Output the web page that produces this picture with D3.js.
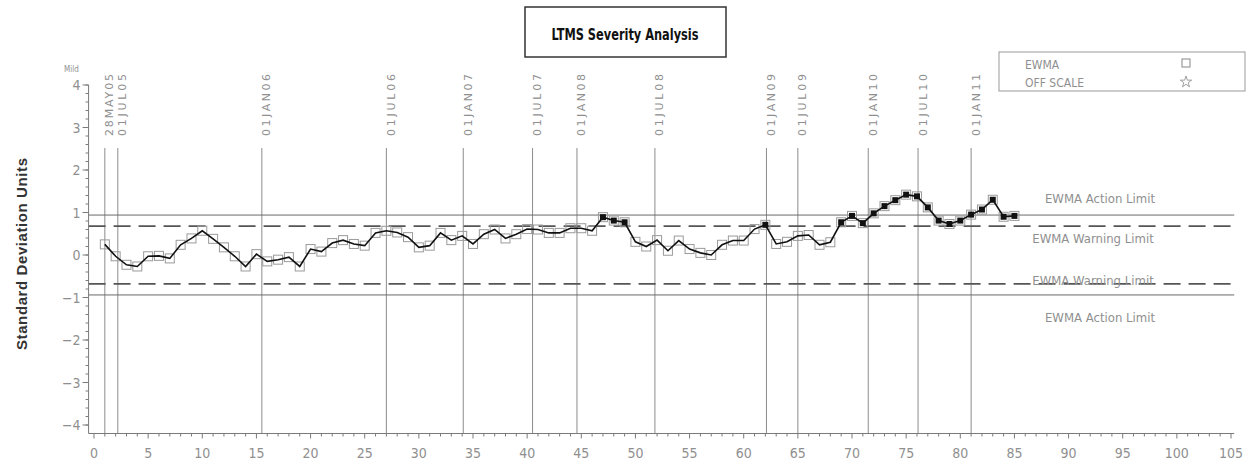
<!DOCTYPE html>
<html>
<head>
<meta charset="utf-8">
<script src="https://cdn.jsdelivr.net/npm/d3@7"></script>
<style>
  html, body { margin: 0; padding: 0; background: #fff; }
  svg { display: block; }
</style>
</head>
<body>
<svg id="chart" width="1252" height="466"></svg>
<script>
// EWMA values, one per test (x = 1..85)
const testIndex = d3.range(1, 86)
const ewmaValues = [
  0.25, -0.03, -0.23, -0.27, -0.03, -0.02, -0.08, 0.24, 0.39, 0.57,
  0.38, 0.18, -0.03, -0.27, 0.02, -0.15, -0.11, -0.05, -0.27, 0.14,
  0.08, 0.28, 0.35, 0.26, 0.22, 0.52, 0.57, 0.53, 0.42, 0.18,
  0.22, 0.52, 0.35, 0.45, 0.26, 0.49, 0.60, 0.39, 0.49, 0.61,
  0.60, 0.52, 0.52, 0.63, 0.63, 0.57, 0.89, 0.81, 0.77, 0.31,
  0.20, 0.35, 0.10, 0.34, 0.14, 0.05, 0.00, 0.24, 0.34, 0.34,
  0.61, 0.71, 0.26, 0.31, 0.45, 0.47, 0.24, 0.30, 0.77, 0.92,
  0.75, 0.98, 1.15, 1.29, 1.42, 1.38, 1.12, 0.81, 0.73, 0.81,
  0.95, 1.07, 1.30, 0.90, 0.92
]

// date reference lines
const dateLabels = ['28MAY05', '01JUL05', '01JAN06', '01JUL06', '01JAN07', '01JUL07', '01JAN08',
  '01JUL08', '01JAN09', '01JUL09', '01JAN10', '01JUL10', '01JAN11']
const datePositions = [1.0, 2.2, 15.5, 27.0, 34.1, 40.5, 44.6, 51.8, 62.1, 65.0, 71.5, 76.1, 81.0]

const actionLimit = 0.94
const warningLimit = 0.68

const xTicks = d3.range(0, 106, 5)
const yTicks = d3.range(-4, 5, 1)

const NARROW = "'Liberation Sans Narrow', 'DejaVu Sans Condensed', 'Arial Narrow', sans-serif"
const GREY_TEXT = '#8f8f8f'

const svg = d3.select('#chart')

const x = d3.scaleLinear().domain([0, 105]).range([94, 1231])
const y = d3.scaleLinear().domain([-4, 4]).range([425, 85])

const xMin = x(-0.5), xMax = x(105.3)
const yBottom = y(-4.2)

// title box
svg.append('rect')
  .attr('x', 525).attr('y', 7).attr('width', 201).attr('height', 50)
  .attr('fill', 'none').attr('stroke', '#333').attr('stroke-width', 1.5)
svg.append('text')
  .attr('x', 625).attr('y', 40)
  .attr('text-anchor', 'middle')
  .attr('font-family', NARROW).attr('font-weight', 'bold').attr('font-size', 16)
  .attr('textLength', 147).attr('lengthAdjust', 'spacingAndGlyphs')
  .attr('fill', '#111')
  .text('LTMS Severity Analysis')

// legend
const legend = svg.append('g')
legend.append('rect')
  .attr('x', 999).attr('y', 52).attr('width', 246).attr('height', 39)
  .attr('fill', 'none').attr('stroke', '#999').attr('stroke-width', 1)
legend.append('text')
  .attr('x', 1025).attr('y', 69)
  .attr('font-family', NARROW).attr('font-size', 12).attr('fill', GREY_TEXT)
  .text('EWMA')
legend.append('text')
  .attr('x', 1025).attr('y', 87)
  .attr('font-family', NARROW).attr('font-size', 12).attr('fill', GREY_TEXT)
  .text('OFF SCALE')
legend.append('rect')
  .attr('x', 1182).attr('y', 59).attr('width', 8).attr('height', 8)
  .attr('fill', 'none').attr('stroke', '#888')
legend.append('path')
  .attr('d', d3.symbol(d3.symbolStar, 40)())
  .attr('transform', 'translate(1186,82)')
  .attr('fill', 'none').attr('stroke', '#888').attr('stroke-width', 0.8)

// y axis title
svg.append('text')
  .attr('transform', 'translate(27,254) rotate(-90)')
  .attr('text-anchor', 'middle')
  .attr('font-family', "'Liberation Sans', Arial, sans-serif")
  .attr('font-weight', 'bold').attr('font-size', 15)
  .attr('textLength', 192).attr('lengthAdjust', 'spacing')
  .attr('fill', '#333')
  .text('Standard Deviation Units')

svg.append('text')
  .attr('x', 64).attr('y', 72)
  .attr('font-family', NARROW).attr('font-size', 8).attr('fill', GREY_TEXT)
  .text('Mild')

// date reference lines
const dates = svg.append('g')
dates.selectAll('line')
  .data(datePositions)
  .enter()
  .append('line')
  .attr('x1', d => x(d)).attr('x2', d => x(d))
  .attr('y1', 148).attr('y2', yBottom)
  .attr('stroke', '#8c8c8c').attr('stroke-width', 1)
dates.selectAll('text')
  .data(datePositions)
  .enter()
  .append('text')
  .attr('transform', d => `translate(${x(d) + 5},136) rotate(-90)`)
  .attr('dominant-baseline', 'central')
  .attr('font-family', "'DejaVu Sans', sans-serif").attr('font-size', 11)
  .attr('textLength', 62).attr('lengthAdjust', 'spacing')
  .attr('fill', GREY_TEXT)
  .text((d, i) => dateLabels[i])

// limit lines
const limits = svg.append('g')
;[actionLimit, -actionLimit].forEach(v => {
  limits.append('line')
    .attr('x1', xMin).attr('x2', xMax).attr('y1', y(v)).attr('y2', y(v))
    .attr('stroke', '#6a6a6a').attr('stroke-width', 1)
})
;[warningLimit, -warningLimit].forEach(v => {
  limits.append('line')
    .attr('x1', xMin).attr('x2', xMax).attr('y1', y(v)).attr('y2', y(v))
    .attr('stroke', '#555').attr('stroke-width', 1.6)
    .attr('stroke-dasharray', '17,8')
})

const limitLabels = [
  { text: 'EWMA Action Limit', cx: 1100, y: y(actionLimit) - 12 },
  { text: 'EWMA Warning Limit', cx: 1093, y: y(warningLimit) + 17 },
  { text: 'EWMA Warning Limit', cx: 1093, y: y(-warningLimit) + 1 },
  { text: 'EWMA Action Limit', cx: 1100, y: y(-actionLimit) + 27 }
]
limits.selectAll('text')
  .data(limitLabels)
  .enter()
  .append('text')
  .attr('x', d => d.cx).attr('y', d => d.y)
  .attr('text-anchor', 'middle')
  .attr('font-family', NARROW).attr('font-size', 13)
  .attr('fill', GREY_TEXT)
  .text(d => d.text)

// axes
const axisColor = '#7a7a7a'
const yAxis = svg.append('g')
yAxis.append('line')
  .attr('x1', xMin).attr('x2', xMin).attr('y1', y(4)).attr('y2', yBottom)
  .attr('stroke', axisColor)
yAxis.selectAll('line.minor')
  .data(d3.range(-40, 41, 2).map(d => d / 10))
  .enter()
  .append('line')
  .attr('class', 'minor')
  .attr('x1', xMin - 3).attr('x2', xMin)
  .attr('y1', d => y(d)).attr('y2', d => y(d))
  .attr('stroke', axisColor)
yAxis.selectAll('line.major')
  .data(yTicks)
  .enter()
  .append('line')
  .attr('class', 'major')
  .attr('x1', xMin - 6).attr('x2', xMin)
  .attr('y1', d => y(d)).attr('y2', d => y(d))
  .attr('stroke', axisColor)
yAxis.selectAll('text')
  .data(yTicks)
  .enter()
  .append('text')
  .attr('x', xMin - 8).attr('y', d => y(d))
  .attr('text-anchor', 'end').attr('dominant-baseline', 'central')
  .attr('font-family', NARROW).attr('font-size', 14)
  .attr('fill', GREY_TEXT)
  .text(d => d3.format('d')(d))

const xAxis = svg.append('g')
xAxis.append('line')
  .attr('x1', xMin).attr('x2', xMax).attr('y1', yBottom).attr('y2', yBottom)
  .attr('stroke', axisColor)
xAxis.selectAll('line.minor')
  .data(d3.range(0, 106, 1))
  .enter()
  .append('line')
  .attr('x1', d => x(d)).attr('x2', d => x(d))
  .attr('y1', yBottom).attr('y2', d => yBottom + (d % 5 === 0 ? 5 : 3))
  .attr('stroke', axisColor)
xAxis.selectAll('text')
  .data(xTicks)
  .enter()
  .append('text')
  .attr('x', d => x(d)).attr('y', 453)
  .attr('text-anchor', 'middle').attr('dominant-baseline', 'central')
  .attr('font-family', NARROW).attr('font-size', 14)
  .attr('fill', GREY_TEXT)
  .text(d => d)

// EWMA series
const points = testIndex.map((t, i) => ({ t, v: ewmaValues[i] }))

svg.append('g')
  .selectAll('rect')
  .data(points)
  .enter()
  .append('rect')
  .attr('x', d => x(d.t) - 4.5).attr('y', d => y(d.v) - 4.5)
  .attr('width', 9).attr('height', 9)
  .attr('fill', 'none').attr('stroke', '#9a9a9a').attr('stroke-width', 1)

svg.append('path')
  .datum(points)
  .attr('fill', 'none')
  .attr('stroke', '#111').attr('stroke-width', 1.6)
  .attr('d', d3.line().x(d => x(d.t)).y(d => y(d.v)))

svg.append('g')
  .selectAll('rect')
  .data(points.filter(d => d.v > warningLimit))
  .enter()
  .append('rect')
  .attr('x', d => x(d.t) - 3).attr('y', d => y(d.v) - 3)
  .attr('width', 6).attr('height', 6)
  .attr('fill', '#111')
</script>
</body>
</html>
